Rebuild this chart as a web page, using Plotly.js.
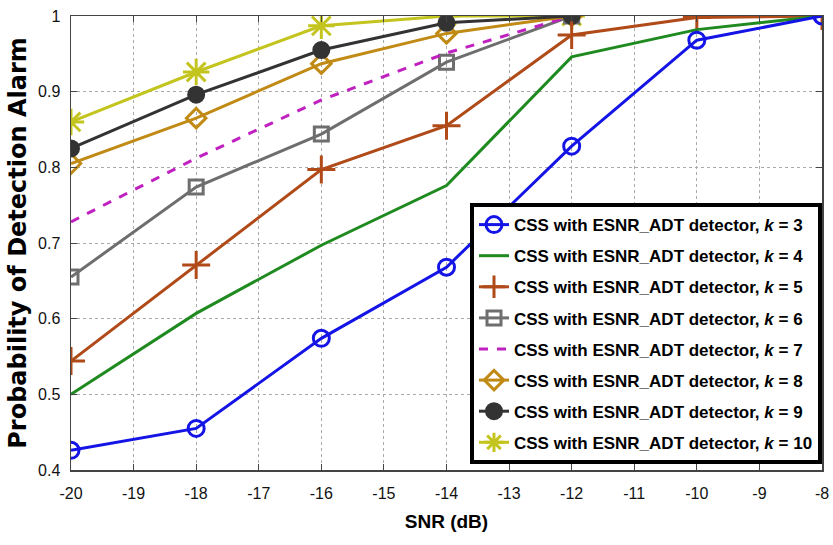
<!DOCTYPE html>
<html><head><meta charset="utf-8">
<script src="https://cdn.plot.ly/plotly-3.0.1.min.js"></script>
<style>html,body{margin:0;padding:0;background:#fff}#chart{width:833px;height:545px}</style>
</head><body><div id="chart"></div>
<script>
const snr = [-20, -18, -16, -14, -12, -10, -8];
const snrShort = [-20, -18, -16, -14, -12];
const k3 = [0.426, 0.455, 0.574, 0.668, 0.828, 0.968, 1.0];
const k4 = [0.500, 0.607, 0.697, 0.776, 0.946, 0.982, 1.0];
const k5 = [0.544, 0.671, 0.797, 0.855, 0.975, 0.998, 1.0];
const k6 = [0.655, 0.774, 0.844, 0.939, 1.0];
const k7 = [0.728, 0.812, 0.889, 0.951, 1.0];
const k8 = [0.805, 0.865, 0.937, 0.977, 1.0];
const k9 = [0.825, 0.896, 0.955, 0.991, 1.0];
const k10 = [0.860, 0.926, 0.987, 1.0, 1.0];
const kLabels = ["3","4","5","6","7","8","9","10"];
const xTickVals = [-20, -19, -18, -17, -16, -15, -14, -13, -12, -11, -10, -9, -8];
const xTickText = ["-20","-19","-18","-17","-16","-15","-14","-13","-12","-11","-10","-9","-8"];
const yTickVals = [0.4, 0.5, 0.6, 0.7, 0.8, 0.9, 1.0];
const yTickText = ["0.4","0.5","0.6","0.7","0.8","0.9","1"];

function name(k){ return "CSS with ESNR_ADT detector, <i>k</i> = " + k; }
const specs = [
  {x:snr, y:k3, color:"#1414e6", symbol:"circle-open", size:16, dash:"solid", mode:"lines+markers"},
  {x:snr, y:k4, color:"#1f8a1f", symbol:"circle", size:10, dash:"solid", mode:"lines"},
  {x:snr, y:k5, color:"#b04a18", symbol:"cross-thin-open", size:20, dash:"solid", mode:"lines+markers"},
  {x:snrShort, y:k6, color:"#6e6e6e", symbol:"square-open", size:14, dash:"solid", mode:"lines+markers"},
  {x:snrShort, y:k7, color:"#c020c0", symbol:"circle", size:10, dash:"dash", mode:"lines"},
  {x:snrShort, y:k8, color:"#c08a14", symbol:"diamond-open", size:15, dash:"solid", mode:"lines+markers"},
  {x:snrShort, y:k9, color:"#333333", symbol:"circle", size:15, dash:"solid", mode:"lines+markers"},
  {x:snrShort, y:k10, color:"#c4c41e", symbol:"asterisk-open", size:22, dash:"solid", mode:"lines+markers"}
];
const traces = specs.map((s,i)=>({
  x: s.x, y: s.y, name: name(kLabels[i]), type:"scatter", mode:s.mode, legendrank: i+1, legendgroup: "g"+i,
  line:{color:s.color, width:3, dash:s.dash},
  marker:{symbol:s.symbol, size:s.size, color:s.color, line:{color:s.color, width:3}}
}));
// drawing order: k10 beneath, then k6,k7,k8,k9, then k5,k4,k3 on top
const order = [7, 3, 4, 5, 6, 2, 1, 0];
const drawTraces = order.map(i => traces[i]);

const tickFont = {family:"Liberation Sans, Arial, sans-serif", size:16, color:"#111"};
const layout = {
  width:833, height:545,
  margin:{l:71, r:11, t:16, b:75},
  paper_bgcolor:"#fff", plot_bgcolor:"#fff",
  showlegend:true,
  legend:{x:1, y:0.588, xanchor:"right", yanchor:"top", bgcolor:"#fff", bordercolor:"#000", borderwidth:4,
          font:{family:"Liberation Sans, Arial, sans-serif", size:17, color:"#000", weight:"bold"},
          tracegroupgap:6, itemwidth:30},
  xaxis:{range:[-20,-8], tickmode:"array", tickvals:xTickVals, ticktext:xTickText,
         showline:true, mirror:"ticks", linecolor:"#444", linewidth:1.5,
         ticks:"inside", ticklen:6, tickcolor:"#444", showgrid:true, gridcolor:"#aaa", griddash:"dot", gridwidth:1,
         zeroline:false, tickfont:tickFont, ticklabelstandoff:8,
         title:{text:"<b>SNR (dB)</b>", font:{family:"Liberation Sans, Arial, sans-serif", size:19, color:"#000"}, standoff:14}},
  yaxis:{range:[0.4,1], tickmode:"array", tickvals:yTickVals, ticktext:yTickText,
         showline:true, mirror:"ticks", linecolor:"#444", linewidth:1.5,
         ticks:"inside", ticklen:6, tickcolor:"#444", showgrid:true, gridcolor:"#aaa", griddash:"dot", gridwidth:1,
         zeroline:false, tickfont:tickFont, ticklabelstandoff:6,
         title:{text:"<b>Probability of Detection Alarm</b>", font:{family:"DejaVu Sans, Verdana, sans-serif", size:24, color:"#000"}, standoff:4}}
};
Plotly.newPlot("chart", drawTraces, layout, {displayModeBar:false, staticPlot:true});
</script></body></html>
